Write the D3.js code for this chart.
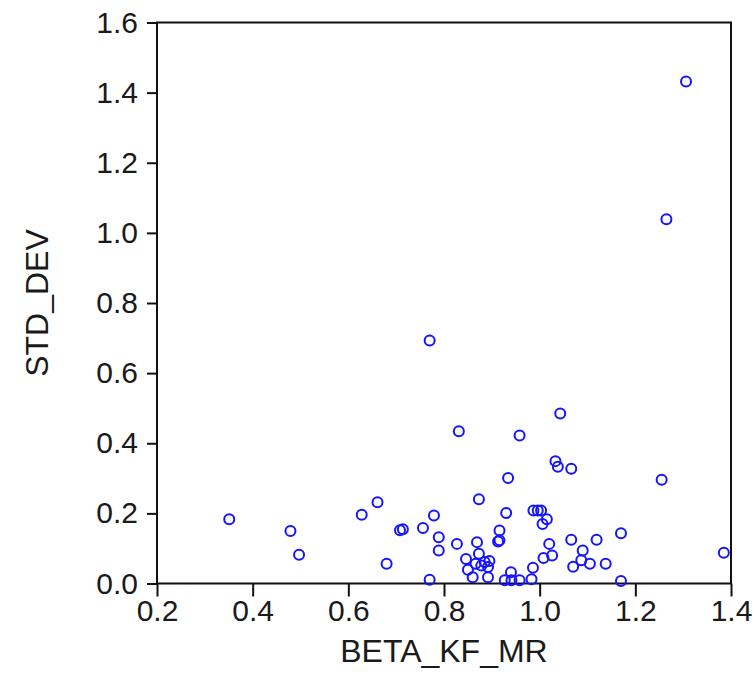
<!DOCTYPE html>
<meta charset="utf-8">
<style>
body { margin: 0; background: #fff; }
text { font-family: "Liberation Sans", Arial, sans-serif; fill: #1a1a1a; }
</style>
<body>
<script src="https://cdnjs.cloudflare.com/ajax/libs/d3/7.8.5/d3.min.js"></script>
<script>

var width = 755,
    height = 691;

// BETA_KF_MR (x) and STD_DEV (y)
var beta = [1.306, 1.265, 0.770, 0.831, 1.043, 0.958, 1.033, 1.038, 1.066, 1.255,
            0.934, 0.873, 0.779, 0.756, 0.789, 0.789, 0.770, 0.827, 0.869, 0.930,
            0.916, 0.913, 0.916, 0.987, 0.996, 1.003, 1.015, 1.006, 1.020, 1.026,
            1.008, 0.986, 0.983, 0.958, 0.927, 0.941, 0.940, 1.066, 1.119, 1.170,
            1.090, 1.087, 1.070, 1.105, 1.138, 1.170, 1.385, 0.846, 0.873, 0.866,
            0.885, 0.895, 0.892, 0.878, 0.850, 0.860, 0.892, 0.661, 0.628, 0.708,
            0.714, 0.680, 0.351, 0.479, 0.497];
var stdDev = [1.432, 1.039, 0.693, 0.434, 0.485, 0.422, 0.349, 0.333, 0.327, 0.296,
              0.301, 0.240, 0.194, 0.158, 0.132, 0.094, 0.011, 0.113, 0.118, 0.201,
              0.151, 0.120, 0.123, 0.208, 0.208, 0.208, 0.183, 0.170, 0.113, 0.080,
              0.073, 0.045, 0.012, 0.009, 0.009, 0.009, 0.032, 0.125, 0.125, 0.143,
              0.094, 0.066, 0.048, 0.056, 0.056, 0.007, 0.088, 0.070, 0.085, 0.056,
              0.061, 0.064, 0.047, 0.051, 0.039, 0.018, 0.018, 0.232, 0.196, 0.152,
              0.155, 0.056, 0.183, 0.150, 0.082];

var xTicks = [0.2, 0.4, 0.6, 0.8, 1.0, 1.2, 1.4];
var yTicks = [0.0, 0.2, 0.4, 0.6, 0.8, 1.0, 1.2, 1.4, 1.6];

var plotLeft = 157, plotRight = 731, plotTop = 22.5, plotBottom = 583.5;

var x = d3.scaleLinear().domain([0.2, 1.4]).range([plotLeft, plotRight]);
var y = d3.scaleLinear().domain([0, 1.6]).range([plotBottom, plotTop]);

var svg = d3.select("body").append("svg")
    .attr("width", width)
    .attr("height", height);

// frame
svg.append("rect")
    .attr("x", plotLeft)
    .attr("y", plotTop)
    .attr("width", plotRight - plotLeft)
    .attr("height", plotBottom - plotTop)
    .attr("fill", "none")
    .attr("stroke", "#111")
    .attr("stroke-width", 2);

var xAxis = svg.append("g")
    .attr("transform", "translate(0," + plotBottom + ")")
    .call(d3.axisBottom(x).tickValues(xTicks).tickFormat(d3.format(".1f")).tickSizeInner(13).tickSizeOuter(0).tickPadding(3));

var yAxis = svg.append("g")
    .attr("transform", "translate(" + plotLeft + ",0)")
    .call(d3.axisLeft(y).tickValues(yTicks).tickFormat(d3.format(".1f")).tickSizeInner(10).tickSizeOuter(0).tickPadding(9));

[xAxis, yAxis].forEach(function(g) {
    g.select(".domain").remove();
    g.selectAll(".tick line").attr("stroke", "#111").attr("stroke-width", 2);
    g.selectAll(".tick text").attr("font-size", 30).attr("fill", "#1a1a1a")
        .attr("font-family", "'Liberation Sans', Arial, sans-serif");
});

svg.append("text")
    .attr("x", (plotLeft + plotRight) / 2)
    .attr("y", 662)
    .attr("text-anchor", "middle")
    .attr("font-size", 32)
    .text("BETA_KF_MR");

svg.append("text")
    .attr("transform", "translate(48," + (plotTop + plotBottom) / 2 + ") rotate(-90)")
    .attr("text-anchor", "middle")
    .attr("font-size", 32)
    .text("STD_DEV");

svg.append("g").selectAll("circle")
    .data(d3.range(beta.length))
    .join("circle")
    .attr("cx", function(i) { return x(beta[i]); })
    .attr("cy", function(i) { return y(stdDev[i]); })
    .attr("r", 5)
    .attr("fill", "none")
    .attr("stroke", "#1414ff")
    .attr("stroke-width", 2);

</script>
